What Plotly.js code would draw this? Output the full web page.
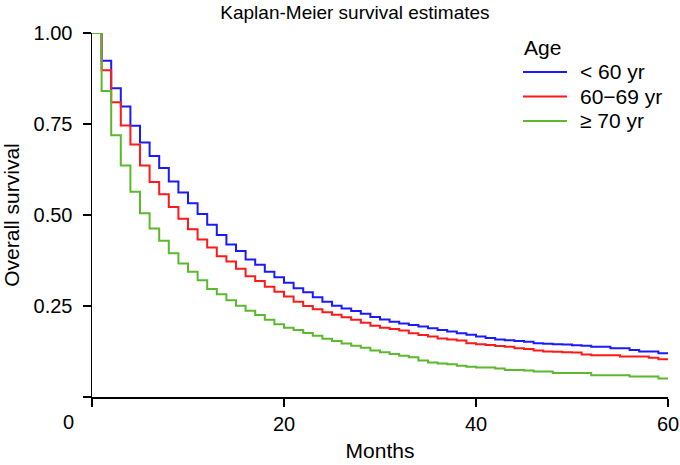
<!DOCTYPE html>
<html>
<head>
<meta charset="utf-8">
<script src="https://cdn.plot.ly/plotly-3.0.1.min.js"></script>
<style>html,body{margin:0;padding:0;background:#fff;}#chart{width:680px;height:465px;}</style>
</head>
<body>
<div id="chart"></div>
<script>
const months = [0,1,2,3,4,5,6,7,8,9,10,11,12,13,14,15,16,17,18,19,20,21,22,23,24,25,26,27,28,29,30,31,32,33,34,35,36,37,38,39,40,41,42,43,44,45,46,47,48,49,50,51,52,53,54,55,56,57,58,59,60];
const seriesNames = ["< 60 yr", "60\u221269 yr", "\u2265 70 yr"];
const survUnder60 = [1,0.924,0.848,0.798,0.745,0.699,0.662,0.629,0.592,0.562,0.532,0.503,0.473,0.445,0.419,0.401,0.378,0.363,0.344,0.329,0.314,0.299,0.288,0.274,0.262,0.251,0.243,0.236,0.229,0.220,0.213,0.207,0.202,0.198,0.194,0.189,0.184,0.180,0.175,0.171,0.166,0.162,0.158,0.156,0.154,0.152,0.148,0.146,0.145,0.144,0.142,0.141,0.138,0.138,0.134,0.134,0.129,0.125,0.125,0.120,0.120];
const surv60to69 = [1,0.898,0.810,0.746,0.694,0.636,0.591,0.557,0.522,0.490,0.461,0.433,0.411,0.387,0.372,0.352,0.332,0.319,0.303,0.289,0.276,0.262,0.250,0.241,0.233,0.226,0.219,0.212,0.204,0.196,0.190,0.187,0.183,0.175,0.170,0.166,0.161,0.158,0.155,0.148,0.145,0.143,0.140,0.138,0.134,0.132,0.128,0.125,0.124,0.123,0.122,0.117,0.115,0.115,0.115,0.111,0.111,0.111,0.108,0.104,0.104];
const surv70plus = [1,0.841,0.719,0.636,0.564,0.505,0.463,0.429,0.395,0.367,0.344,0.321,0.297,0.282,0.266,0.251,0.237,0.225,0.212,0.200,0.190,0.184,0.176,0.168,0.160,0.154,0.147,0.141,0.135,0.128,0.123,0.118,0.113,0.109,0.100,0.095,0.092,0.090,0.086,0.083,0.081,0.081,0.078,0.074,0.074,0.073,0.070,0.070,0.066,0.066,0.066,0.066,0.060,0.060,0.060,0.060,0.056,0.056,0.056,0.051,0.051];
const xTickVals = [0,20,40,60];
const xTickText = ["","20","40","60"];
const yTickVals = [0,0.25,0.5,0.75,1];
const yTickText = ["","0.25","0.50","0.75","1.00"];
const legendTitle = "Age";

const colors = ["#1a1aff","#ff1a1a","#5cb82e"];
const allSurv = [survUnder60, surv60to69, surv70plus];
const FONT = "Liberation Sans, Arial, sans-serif";

const traces = allSurv.map((s, i) => ({
  type: "scatter", mode: "lines", x: months, y: s, name: seriesNames[i],
  line: {color: colors[i], width: 2, shape: "hv"}, hoverinfo: "skip", showlegend: false
}));

// Legend drawn as paper-referenced keys and labels
const legX0 = 0.7483, legX1 = 0.8247, legTextX = 0.8438;
const legTitleY = 0.9588, legRow0 = 0.8929, legRowStep = 0.0673;
const shapes = seriesNames.map((n, i) => ({
  type: "line", xref: "paper", yref: "paper",
  x0: legX0, x1: legX1, y0: legRow0 - i * legRowStep, y1: legRow0 - i * legRowStep,
  line: {color: colors[i], width: 2}
}));
const annotations = seriesNames.map((n, i) => ({
  text: n, xref: "paper", yref: "paper", x: legTextX, y: legRow0 - i * legRowStep,
  xanchor: "left", yanchor: "middle", showarrow: false,
  font: {size: 21, family: FONT, color: "#000"}
}));
annotations.push({text: legendTitle, xref: "paper", yref: "paper", x: legX0 - 0.002, y: legTitleY,
  xanchor: "left", yanchor: "middle", showarrow: false, font: {size: 21, family: FONT, color: "#000"}});
annotations.push({text: "0", xref: "paper", yref: "paper", x: -0.04, y: -0.068, showarrow: false,
  xanchor: "center", yanchor: "middle", font: {size: 20, family: FONT, color: "#000"}});

const layout = {
  width: 680, height: 465,
  margin: {l: 92, r: 12, t: 33, b: 68},
  paper_bgcolor: "#ffffff", plot_bgcolor: "#ffffff",
  font: {family: FONT, color: "#000", size: 20},
  showlegend: false,
  title: {text: "Kaplan-Meier survival estimates", x: 0.522, xref: "container", xanchor: "center",
          y: 0.974, yref: "container", yanchor: "middle", font: {size: 19, family: FONT, color: "#000"}},
  xaxis: {range: [0, 60], tickvals: xTickVals, ticktext: xTickText, showgrid: false, zeroline: false,
          showline: true, linecolor: "#000", linewidth: 1.5, ticks: "outside", ticklen: 8, tickwidth: 1.5, tickcolor: "#000",
          tickfont: {size: 20, family: FONT, color: "#000"},
          title: {text: "Months", font: {size: 21, family: FONT, color: "#000"}, standoff: 10}},
  yaxis: {range: [0, 1], tickvals: yTickVals, ticktext: yTickText, showgrid: false, zeroline: false,
          showline: true, linecolor: "#000", linewidth: 1.5, ticks: "outside", ticklen: 8, tickwidth: 1.5, tickcolor: "#000",
          tickfont: {size: 20, family: FONT, color: "#000"}, ticklabelstandoff: 6,
          title: {text: "Overall survival", font: {size: 21, family: FONT, color: "#000"}, standoff: 12}},
  shapes: shapes,
  annotations: annotations
};

Plotly.newPlot("chart", traces, layout, {displayModeBar: false, staticPlot: true});
</script>
</body>
</html>
